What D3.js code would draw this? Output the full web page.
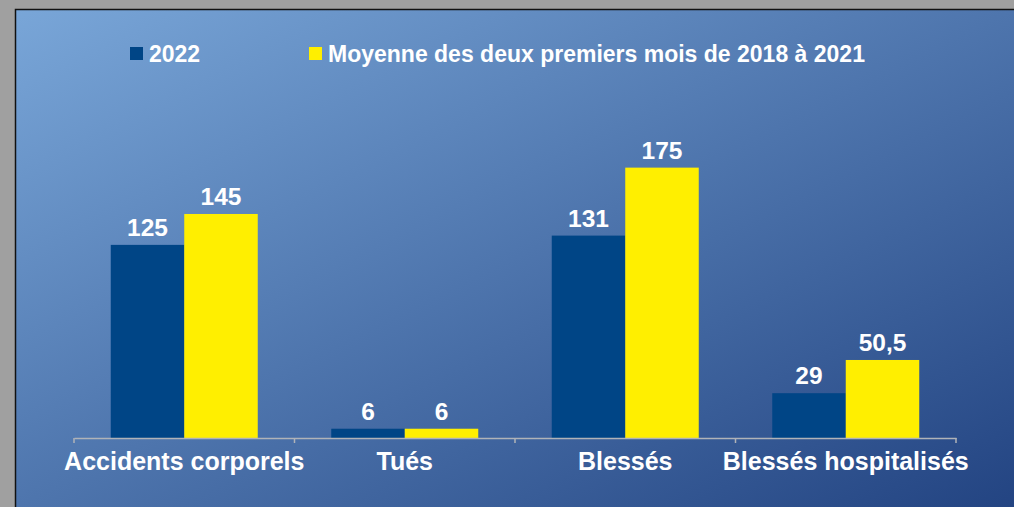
<!DOCTYPE html>
<html>
<head>
<meta charset="utf-8">
<script src="https://cdn.jsdelivr.net/npm/d3@7"></script>
<style>
  body { margin: 0; background: #a0a0a0; }
  svg { display: block; }
  text { font-family: "Liberation Sans", Arial, sans-serif; font-weight: bold; fill: #ffffff; }
</style>
</head>
<body>
<div id="chart"></div>
<script>
// Data
const categories = ["Accidents corporels", "Tués", "Blessés", "Blessés hospitalisés"];
const seriesNames = ["2022", "Moyenne des deux premiers mois de 2018 à 2021"];
const values2022 = [125, 6, 131, 29];
const valuesAvg = [145, 6, 175, 50.5];
const seriesColors = ["#004586", "#ffef00"];

const W = 1014, H = 507;

const svg = d3.select("#chart")
    .append("svg")
    .attr("width", W)
    .attr("height", H);

// Background gradient
const defs = svg.append("defs");
const grad = defs.append("linearGradient")
    .attr("id", "bg")
    .attr("x1", "0%").attr("y1", "0%")
    .attr("x2", "100%").attr("y2", "100%");
grad.append("stop").attr("offset", "0%").attr("stop-color", "#79a6d8");
grad.append("stop").attr("offset", "100%").attr("stop-color", "#234482");

svg.append("rect")
    .attr("x", 15).attr("y", 9)
    .attr("width", W - 15).attr("height", H - 9)
    .attr("fill", "url(#bg)");

// border (left + top)
svg.append("path")
    .attr("d", `M15.5,${H} L15.5,9.5 L${W},9.5`)
    .attr("fill", "none")
    .attr("stroke", "#111")
    .attr("stroke-width", 1.5);

// Scales
const plot = { left: 74, right: 956, top: 129, bottom: 438 };

const x = d3.scaleBand()
    .domain(categories)
    .range([plot.left, plot.right])
    .paddingInner(0)
    .paddingOuter(0);

const xs = d3.scaleBand()
    .domain(seriesNames)
    .range([x.bandwidth() / 6, x.bandwidth() * 5 / 6]);

const y = d3.scaleLinear()
    .domain([0, 200])
    .range([plot.bottom, plot.top]);

const rows = categories.map((c, i) => ({ cat: c, vals: [values2022[i], valuesAvg[i]] }));

// Bars
const groups = svg.selectAll(".cat")
    .data(rows)
    .enter().append("g")
    .attr("class", "cat")
    .attr("transform", d => `translate(${x(d.cat)},0)`);

groups.selectAll("rect")
    .data(d => d.vals.map((v, j) => ({ key: seriesNames[j], v: v, j: j })))
    .enter().append("rect")
    .attr("x", d => xs(d.key))
    .attr("y", d => y(d.v))
    .attr("width", xs.bandwidth())
    .attr("height", d => y(0) - y(d.v))
    .attr("fill", d => seriesColors[d.j]);

// Value labels
groups.selectAll(".val")
    .data(d => d.vals.map((v, j) => ({ key: seriesNames[j], v: v })))
    .enter().append("text")
    .attr("class", "val")
    .attr("x", d => xs(d.key) + xs.bandwidth() / 2)
    .attr("y", d => y(d.v) - 9)
    .attr("text-anchor", "middle")
    .style("font-size", "24.5px")
    .text(d => String(d.v).replace(".", ","));

// X axis
const xAxis = svg.append("g")
    .attr("transform", `translate(0,${plot.bottom})`)
    .call(d3.axisBottom(x).tickSize(0).tickPadding(14));
xAxis.select(".domain").attr("stroke", "#b0b3b8").attr("stroke-width", 1.5);
xAxis.selectAll("text")
    .style("font-size", "25px")
    .style("font-family", "'Liberation Sans', Arial, sans-serif")
    .attr("fill", "#ffffff");

// category separators
const sepPositions = categories.map(c => x(c)).concat([plot.right]);
svg.selectAll(".sep")
    .data(sepPositions)
    .enter().append("line")
    .attr("x1", d => d).attr("x2", d => d)
    .attr("y1", plot.bottom).attr("y2", plot.bottom + 5)
    .attr("stroke", "#b0b3b8")
    .attr("stroke-width", 1.5);

// Legend
const legendX = [130, 309];
const legend = svg.selectAll(".legend")
    .data(seriesNames)
    .enter().append("g")
    .attr("transform", (d, i) => `translate(${legendX[i]},47)`);
legend.append("rect")
    .attr("width", 13).attr("height", 13)
    .attr("fill", (d, i) => seriesColors[i]);
legend.append("text")
    .attr("x", 19).attr("y", 15)
    .style("font-size", "23px")
    .text(d => d);
</script>
</body>
</html>
